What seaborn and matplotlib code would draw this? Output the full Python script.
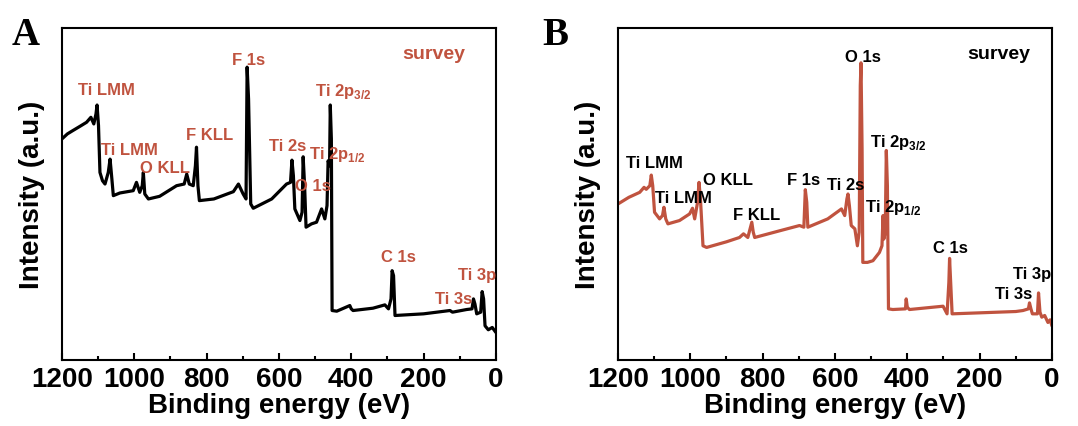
import pandas as pd
import numpy as np
import seaborn as sns
import matplotlib.pyplot as plt
from matplotlib.ticker import MultipleLocator

# XPS survey spectra, binding energy (eV) vs intensity (a.u.)
a_energy = [1200, 1185, 1170, 1150, 1132, 1120, 1112, 1106, 1103, 1099, 1095, 1088, 1081,
            1072, 1067, 1062, 1058, 1040, 1003, 994, 985, 978, 975, 971, 961, 930, 883,
            862, 855, 848, 837, 831, 828, 824, 820, 780, 726, 712, 699, 691, 688, 684,
            678, 671, 620, 579, 568, 564, 560, 556, 542, 536, 533, 529, 525, 510, 496,
            482, 473, 467, 464, 460, 458, 455, 453, 440, 404, 400, 395, 340, 307, 297,
            290, 287, 283, 279, 200, 127, 120, 81, 66, 62, 58, 53, 42, 38, 34, 30, 21,
            10, 0]
a_intensity = [66.6, 68.1, 69.1, 70.4, 71.6, 73.1, 71.1, 74.1, 76.8, 70.6, 56.5, 54.0, 53.0,
               56.5, 60.5, 54.5, 49.5, 50.3, 51.0, 53.5, 50.5, 52.5, 56.5, 50.0, 48.5, 49.3,
               52.5, 53.0, 56.0, 53.0, 52.5, 58.5, 64.1, 52.5, 48.0, 48.5, 50.7, 53.0, 50.0,
               48.5, 88.2, 78.6, 47.0, 45.7, 48.5, 53.0, 53.5, 60.2, 55.5, 45.5, 42.0, 44.5,
               61.2, 52.5, 40.0, 41.0, 41.5, 45.5, 42.5, 46.5, 60.0, 58.5, 76.8, 66.6, 14.9,
               14.7, 16.4, 15.4, 14.9, 15.6, 16.6, 15.4, 18.4, 26.9, 25.4, 13.4, 13.9, 14.9,
               14.4, 15.2, 15.4, 18.4, 16.9, 13.9, 14.4, 20.6, 18.4, 10.3, 9.1, 9.8, 8.3]

b_energy = [1200, 1170, 1140, 1128, 1122, 1112, 1108, 1104, 1099, 1085, 1077, 1073, 1068,
            1062, 1030, 1002, 994, 988, 980, 976, 972, 965, 955, 900, 864, 853, 841, 830,
            826, 822, 750, 698, 686, 682, 678, 675, 620, 582, 573, 567, 564, 560, 555, 545,
            538, 533, 530, 528, 525, 523, 510, 495, 477, 470, 467, 465, 461, 458, 455, 452,
            440, 405, 403, 400, 394, 301, 290, 285, 283, 280, 276, 200, 100, 80, 65, 62, 58,
            54, 40, 37, 33, 28, 20, 11, 5, 0]
b_intensity = [47.0, 49.0, 50.5, 52.0, 51.4, 52.5, 55.7, 52.5, 44.5, 42.5, 43.5, 46.0, 42.5,
               41.0, 42.0, 44.0, 45.7, 42.5, 47.5, 53.5, 48.5, 34.4, 33.9, 35.6, 36.9, 38.0,
               36.9, 41.5, 38.5, 36.9, 39.0, 40.5, 40.0, 51.3, 47.5, 40.0, 42.5, 45.5, 43.5,
               48.5, 50.0, 46.4, 40.5, 39.5, 34.4, 38.5, 82.6, 89.5, 63.6, 29.4, 29.4, 29.9,
               32.4, 34.4, 43.5, 36.4, 38.5, 63.1, 52.5, 15.4, 15.2, 15.4, 18.4, 15.9, 15.2,
               16.2, 13.9, 23.4, 30.6, 23.4, 13.9, 14.2, 14.6, 14.9, 15.4, 17.2, 15.4, 13.9,
               13.9, 20.2, 14.4, 12.9, 13.4, 11.3, 12.1, 10.3]

# peak labels: text, energy, intensity
a_labels = ["Ti LMM", "Ti LMM", "O KLL", "F KLL", "F 1s", "Ti 2s", r"Ti 2p$_{\mathregular{1/2}}$",
            r"Ti 2p$_{\mathregular{3/2}}$", "O 1s", "C 1s", "Ti 3s", "Ti 3p", "survey"]
a_label_e = [1076, 1014, 915, 792, 684, 577, 439, 422, 505, 270, 117, 53, 173]
a_label_i = [81.4, 63.5, 58.0, 67.9, 90.4, 64.5, 62.3, 81.1, 52.5, 31.2, 18.6, 25.6, 92.2]

b_labels = ["Ti LMM", "Ti LMM", "O KLL", "F KLL", "F 1s", "Ti 2s", r"Ti 2p$_{\mathregular{1/2}}$",
            r"Ti 2p$_{\mathregular{3/2}}$", "O 1s", "C 1s", "Ti 3s", "Ti 3p", "survey"]
b_label_e = [1100, 1020, 896, 818, 686, 571, 438, 426, 522, 282, 106, 55, 148]
b_label_i = [59.5, 48.8, 54.3, 43.7, 54.5, 53.0, 46.3, 65.8, 91.5, 34.0, 19.9, 25.9, 92.2]

red = "#c0533f"

sns.set_style("ticks")
plt.rcParams['font.family'] = ['Liberation Sans', 'DejaVu Sans']
plt.rcParams['font.weight'] = 'bold'
plt.rcParams['text.color'] = 'black'
plt.rcParams['axes.labelcolor'] = 'black'
plt.rcParams['xtick.color'] = 'black'
plt.rcParams['xtick.labelcolor'] = 'black'
plt.rcParams['mathtext.fontset'] = 'custom'
plt.rcParams['mathtext.rm'] = 'Liberation Sans'
plt.rcParams['mathtext.bf'] = 'Liberation Sans:bold'

fig = plt.figure(figsize=(10.78, 4.27), dpi=100)
ax_a = fig.add_axes([0.0575, 0.1546, 0.4025, 0.7775])
ax_b = fig.add_axes([0.5733, 0.1546, 0.4025, 0.7775])

panels = [
    (ax_a, a_energy, a_intensity, "black", a_labels, a_label_e, a_label_i, red, "A", 0.011),
    (ax_b, b_energy, b_intensity, red, b_labels, b_label_e, b_label_i, "black", "B", 0.503),
]

for ax, e, inten, lc, labs, le, li, tc, letter, lx in panels:
    df = pd.DataFrame({"energy": e, "intensity": inten})
    sns.lineplot(x="energy", y="intensity", data=df, ax=ax, sort=False, estimator=None,
                 color=lc, linewidth=2.3)
    for t, x, y in zip(labs, le, li):
        size = 14 if t == "survey" else 12
        ax.text(x, y, t, color=tc, fontsize=size, fontweight="bold", ha="center", va="center")
    ax.set_xlim(1200, 0)
    ax.set_ylim(0, 100)
    ax.set_yticks([])
    ax.xaxis.set_major_locator(MultipleLocator(200))
    ax.xaxis.set_minor_locator(MultipleLocator(100))
    ax.tick_params(axis="x", which="major", direction="in", length=5, width=1.5,
                   labelsize=20, pad=4, colors="black")
    ax.tick_params(axis="x", which="minor", direction="in", length=3, width=1.5, colors="black")
    for side in ["top", "right", "bottom", "left"]:
        ax.spines[side].set_visible(True)
        ax.spines[side].set_linewidth(1.5)
        ax.spines[side].set_color("black")
    ax.set_xlabel("Binding energy (eV)", fontsize=20, fontweight="bold", labelpad=0, color="black")
    ax.set_ylabel("Intensity (a.u.)", fontsize=20, fontweight="bold", labelpad=12, color="black")
    fig.text(lx, 0.895, letter, fontsize=28, fontweight="bold",
             family="Liberation Serif", va="baseline", color="black")

plt.savefig("out.png", dpi=100)
